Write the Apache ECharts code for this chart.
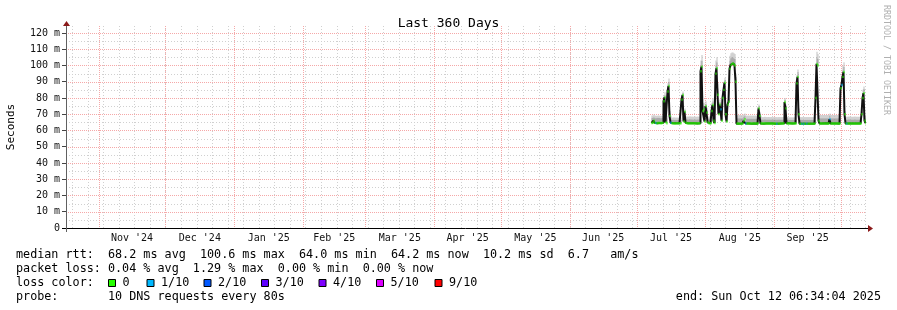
<!DOCTYPE html>
<html><head><meta charset="utf-8">
<script src="https://cdn.jsdelivr.net/npm/echarts@6/dist/echarts.min.js"></script>
<style>html,body{margin:0;padding:0;background:#fff}#c{width:897px;height:310px}</style>
</head><body><div id="c"></div>
<script>
// ---------- data ----------
const axisStart = Date.UTC(2024, 9, 17, 6, 34, 4);
const axisEnd = Date.UTC(2025, 9, 12, 6, 34, 4);
const monthStarts = ['2024-11-01','2024-12-01','2025-01-01','2025-02-01','2025-03-01','2025-04-01',
  '2025-05-01','2025-06-01','2025-07-01','2025-08-01','2025-09-01','2025-10-01'];
const monthLabels = ["Nov '24","Dec '24","Jan '25","Feb '25","Mar '25","Apr '25",
  "May '25","Jun '25","Jul '25","Aug '25","Sep '25"];
const firstSunday = '2024-10-20';
const yTicks = [0,10,20,30,40,50,60,70,80,90,100,110,120];
const yMinor = [5,15,25,35,45,55,65,75,85,95,105,115];
const yMax = 124.3;

const dataStart = Date.UTC(2025, 6, 7, 18, 0, 0);
const stepHours = 10.8;
// median rtt (ms)
const median = [
64.6,64.8,66,64.7,64.6,64.5,64.6,64.7,64.6,64.5,
64.6,64.7,78,80.4,65,64.5,84,87.4,69,64.8,
64.4,64.5,64.4,64.3,64.4,64.5,64.4,64.4,64.5,64.4,
79,81.8,65.5,71.6,64.8,64.5,64.4,64.5,64.4,64.5,
64.4,64.5,64.4,64.5,64.4,64.3,64.4,64.5,64.4,96.5,
99.3,72,73,65.5,75,71,65,64.5,64.4,64.5,
72,75.7,66,64.6,95,98.3,82,70,76,73,
66,80,85,89.4,70,65.5,76,77.7,98,100.3,
101,101.3,100.8,100,90,64.2,64.3,64.2,64.1,64.2,
64.3,64.2,66,67,64.3,64.2,64.3,64.2,64.3,64.2,
64.3,64.2,64.3,64.2,64.3,64.2,64.3,73.6,69,64.3,
64.3,64.2,64.3,64.4,64.3,64.2,64.3,64.3,64.2,64.3,
64.3,64.2,64.3,64.2,64.3,64.1,64.2,64.3,64.2,64.3,
64.2,64.3,64.4,77.5,73.6,64.4,64.3,64.4,64.3,64.4,
64.3,64.4,64.3,64.4,64.3,89,93,70,64.2,64.1,
64.1,64.2,64.1,64.2,64.1,64.2,64.1,64.2,64.2,64.1,
64.2,64.1,64.2,64.2,80,101,100,66,64.3,64.3,
64.3,64.2,64.3,64.4,64.3,64.2,64.3,64.3,67,64.3,
64.2,64.3,64.3,64.2,64.3,64.4,64.3,64.2,64.3,86,
88,93,96,70,64.3,64.2,64.3,64.3,64.2,64.3,
64.3,64.2,64.3,64.3,64.2,64.3,64.2,64.3,64.3,64.2,
70,80,83,66,64.5];
// upper edge of the dark smoke band (ms)
const smokeMid = [
67.8,67.9,68.2,67.8,67.6,67.7,67.8,67.9,67.7,67.6,
67.7,67.8,80,82,68,67.5,87,90,71,67.4,
66.6,66.5,66.7,66.5,66.6,66.4,66.6,66.5,66.7,66.6,
81,83,68,72.5,67,66.8,66.9,66.8,67,66.8,
66.9,66.8,66.7,66.9,66.8,66.7,66.9,66.8,66.9,100,
103,74,75,68,76.5,72.5,67,66.8,66.9,66.8,
75,78,68,67,100,102,86,72,77.5,75,
68,83,88,91,72,67.5,77,79,103,104.5,
105,105,104.5,104,93,67.6,67.5,67.6,67.5,67.6,
67.5,67.6,68.5,69,67.4,67.3,67.4,67.3,67.4,67.3,
67.4,67.3,67.4,67.3,67.4,67.3,67.4,75,70.5,67.2,
66.8,66.7,66.8,66.9,66.8,66.7,66.8,66.8,66.7,66.8,
66.8,66.7,66.8,66.7,66.8,66.6,66.7,66.8,66.7,66.8,
66.7,66.8,66.9,79,75,66.6,66.5,66.6,66.5,66.6,
66.5,66.6,66.5,66.6,66.5,92,96,72,66.6,66.5,
66.6,66.5,66.6,66.5,66.6,66.5,66.6,66.5,66.6,66.5,
66.6,66.5,66.6,66.6,83,105,104,68,67.5,67.6,
67.5,67.6,67.5,67.6,67.5,67.6,67.5,67.6,69,67.5,
67.6,67.5,67.6,67.5,67.6,67.5,67.6,67.5,67.6,88,
91,97,99,71,66.8,66.7,66.8,66.9,66.8,66.7,
66.8,66.7,66.8,66.9,66.8,66.7,66.8,66.7,66.8,66.9,
71.5,83,85.5,68,66.8];
// upper edge of the light smoke band (ms)
const smokeHigh = [
69.2,69.3,69.8,69.2,69.0,69.1,69.2,69.3,69.1,69.0,
69.1,69.2,81.5,83.5,69.5,69,89,92,72,69,
68.0,67.9,68.1,67.9,68.0,67.8,68.0,67.9,68.1,68.0,
82,84,69.5,73.5,68.6,68.5,68.6,68.5,68.7,68.5,
68.6,68.5,68.4,68.6,68.5,68.4,68.6,68.5,68.6,103,
106.5,76,77,69.5,78,74,68.6,68.5,68.6,68.5,
77,80,69.5,68.6,103,105,89,73.5,79,76.5,
69.5,85,90,92.5,73.5,69,78,80,106,107.5,
108,108,107.5,107,95,69.5,69.4,69.5,69.4,69.5,
69.4,69.5,70,70.5,69.2,69.1,69.2,69.1,69.2,69.1,
69.2,69.1,69.2,69.1,69.2,69.1,69.2,76,71.5,69,
68.3,68.2,68.3,68.4,68.3,68.2,68.3,68.3,68.2,68.3,
68.3,68.2,68.3,68.2,68.3,68.1,68.2,68.3,68.2,68.3,
68.2,68.3,68.4,80,76,68.1,68.0,68.1,68.0,68.1,
68.0,68.1,68.0,68.1,68.0,94,97.5,73.5,68.3,68.2,
68.3,68.2,68.3,68.2,68.3,68.2,68.3,68.2,68.3,68.2,
68.3,68.2,68.3,68.3,85,108.5,107,69.5,69.5,69.6,
69.5,69.6,69.5,69.6,69.5,69.6,69.5,69.6,70.5,69.5,
69.6,69.5,69.6,69.5,69.6,69.5,69.6,69.5,69.6,89.5,
93,100,102,72,68.5,68.4,68.5,68.6,68.5,68.4,
68.5,68.4,68.5,68.6,68.5,68.4,68.5,68.4,68.5,68.6,
72.5,85,87,69.5,68.5];
// steps with packet loss (index into the arrays above) and lost pings out of 10
const lossIndex = [4,19,69,94,125,150,152,155,178,190,195];
const lossCount = [1,1,1,1,1,1,1,1,1,1,1];
const lossColors = {0:'#26ff00',1:'#00b8ff',2:'#0059ff',3:'#5e00ff',4:'#7e00ff',5:'#dd00ff',9:'#ff0000'};
const legendLoss = [['0',0],['1/10',1],['2/10',2],['3/10',3],['4/10',4],['5/10',5],['9/10',9]];
const statLines = [
  'median rtt:  68.2 ms avg  100.6 ms max  64.0 ms min  64.2 ms now  10.2 ms sd  6.7   am/s',
  'packet loss: 0.04 % avg  1.29 % max  0.00 % min  0.00 % now',
  'loss color:',
  'probe:       10 DNS requests every 80s'
];
const endText = 'end: Sun Oct 12 06:34:04 2025';

// ---------- build ----------
const MONO = '"DejaVu Sans Mono", monospace';
const stepMs = stepHours * 3600 * 1000;
const DAY = 86400000;
const monthMs = monthStarts.map(s => Date.parse(s));
const labelPos = monthLabels.map((l, i) => (monthMs[i] + monthMs[i + 1]) / 2);
const weekMs = [];
for (let t = Date.parse(firstSunday); t <= axisEnd; t += 7 * DAY) weekMs.push(t);
const lossAt = {};
lossIndex.forEach((k, j) => { lossAt[k] = lossCount[j]; });
const times = median.map((m, i) => dataStart + i * stepMs);

function vLines(values, color, dash) {
  return {
    type: 'custom', silent: true, clip: true, z: 1,
    data: values.map(v => [v, 0]),
    renderItem(params, api) {
      const cs = params.coordSys;
      const x = Math.round(api.coord([api.value(0), 0])[0]) + 0.5;
      return { type: 'line', shape: { x1: x, y1: cs.y, x2: x, y2: cs.y + cs.height },
        style: { stroke: color, lineWidth: 1, lineDash: dash } };
    }
  };
}
function hLines(values, color, dash) {
  return {
    type: 'custom', silent: true, clip: true, z: 1,
    data: values.map(v => [axisStart, v]),
    renderItem(params, api) {
      const cs = params.coordSys;
      const y = Math.round(api.coord([api.value(0), api.value(1)])[1]) + 0.5;
      return { type: 'line', shape: { x1: cs.x, y1: y, x2: cs.x + cs.width, y2: y },
        style: { stroke: color, lineWidth: 1, lineDash: dash } };
    }
  };
}

const smokeSeries = {
  type: 'custom', silent: true, clip: true, z: 2,
  data: median.map((m, i) => [times[i], m, smokeMid[i], smokeHigh[i]]),
  renderItem(params, api) {
    const t = api.value(0);
    const a = api.coord([t, api.value(1)]);
    const b = api.coord([t + stepMs, api.value(2)]);
    const c = api.coord([t, api.value(3)]);
    const w = b[0] - a[0];
    return { type: 'group', children: [
      { type: 'rect', shape: { x: a[0], y: b[1], width: w, height: Math.max(0, a[1] - b[1]) }, style: { fill: '#8e8e8e' } },
      { type: 'rect', shape: { x: a[0], y: c[1], width: w, height: Math.max(0, b[1] - c[1]) }, style: { fill: '#c2c2c2' } }
    ]};
  }
};
const medianLine = {
  type: 'line', step: 'end', symbol: 'none', silent: true, z: 3,
  data: median.map((m, i) => [times[i], m]),
  lineStyle: { color: '#111', width: 2 }
};
const medianColor = {
  type: 'custom', silent: true, clip: true, z: 4,
  data: median.map((m, i) => [times[i], m, lossAt[i] || 0]),
  renderItem(params, api) {
    const t = api.value(0);
    const a = api.coord([t, api.value(1)]);
    const b = api.coord([t + stepMs, api.value(1)]);
    return { type: 'rect', shape: { x: a[0], y: a[1] - 1.2, width: b[0] - a[0], height: 2.4 },
      style: { fill: lossColors[api.value(2)] } };
  }
};

// ---------- decorations (text, legend) ----------
const G = { left: 66, top: 26, width: 800, height: 202 };
const LF = '11.75px ' + MONO;
const graphics = [];
statLines.forEach((s, k) => graphics.push({ type: 'text', silent: true,
  style: { text: s, x: 16, y: 254.8 + 14 * k, font: LF, fill: '#000', verticalAlign: 'middle' } }));
const boxX = [108, 146.5, 203.5, 261, 318.5, 376, 434.5];
legendLoss.forEach(([lab, n], j) => {
  graphics.push({ type: 'rect', silent: true, shape: { x: boxX[j] + 0.5, y: 279.5, width: 7, height: 7 },
    style: { fill: lossColors[n], stroke: '#000', lineWidth: 1 } });
  graphics.push({ type: 'text', silent: true,
    style: { text: lab, x: boxX[j] + 14.5, y: 282.8, font: LF, fill: '#000', verticalAlign: 'middle' } });
});
graphics.push({ type: 'text', silent: true,
  style: { text: endText, x: 881, y: 296.8, font: LF, fill: '#000', align: 'right', verticalAlign: 'middle' } });
graphics.push({ type: 'text', silent: true, x: 11, y: 127, rotation: Math.PI / 2,
  style: { text: 'Seconds', x: 0, y: 0, font: '11px ' + MONO, fill: '#000', align: 'center', verticalAlign: 'middle' } });
graphics.push({ type: 'text', silent: true, x: 886.5, y: 60, rotation: -Math.PI / 2,
  style: { text: 'RRDTOOL / TOBI OETIKER', x: 0, y: 0, font: '8.3px ' + MONO, fill: '#b0b0b0', align: 'center', verticalAlign: 'middle' } });
// axis extensions and arrows
graphics.push({ type: 'line', silent: true, shape: { x1: G.left - 4, y1: G.top + G.height + 0.5, x2: G.left + G.width + 3, y2: G.top + G.height + 0.5 }, style: { stroke: '#000', lineWidth: 1 }, z: 10 });
graphics.push({ type: 'line', silent: true, shape: { x1: G.left + 0.5, y1: G.top + G.height + 4, x2: G.left + 0.5, y2: G.top - 3 }, style: { stroke: '#606060', lineWidth: 1 }, z: 10 });
graphics.push({ type: 'polygon', silent: true, shape: { points: [[G.left - 3, G.top], [G.left + 4, G.top], [G.left + 0.5, G.top - 5]] }, style: { fill: '#8b1a1a' }, z: 11 });
graphics.push({ type: 'polygon', silent: true, shape: { points: [[G.left + G.width + 2, G.top + G.height - 3], [G.left + G.width + 2, G.top + G.height + 4], [G.left + G.width + 7, G.top + G.height + 0.5]] }, style: { fill: '#8b1a1a' }, z: 11 });

const chart = echarts.init(document.getElementById('c'), null, { renderer: 'canvas' });
chart.setOption({
  animation: false,
  backgroundColor: '#fff',
  title: { text: 'Last 360 Days', left: 'center', top: 12,
    textStyle: { fontFamily: MONO, fontSize: 13, fontWeight: 'normal', color: '#000' } },
  grid: { left: G.left, top: G.top, width: G.width, height: G.height },
  xAxis: {
    type: 'value', min: axisStart, max: axisEnd,
    splitLine: { show: false }, axisTick: { show: false },
    axisLine: { show: false },
    axisLabel: {
      customValues: labelPos, margin: 5, color: '#111', fontFamily: MONO, fontSize: 10,
      formatter: v => {
        let best = 0, d = Infinity;
        labelPos.forEach((p, i) => { if (Math.abs(p - v) < d) { d = Math.abs(p - v); best = i; } });
        return monthLabels[best];
      }
    }
  },
  yAxis: {
    type: 'value', min: 0, max: yMax,
    splitLine: { show: false },
    axisLine: { show: false },
    axisTick: { show: true, customValues: yTicks, length: 4, lineStyle: { color: '#444' } },
    axisLabel: { customValues: yTicks, margin: 6, color: '#111', fontFamily: MONO, fontSize: 10,
      formatter: v => v === 0 ? '0' : v + ' m' }
  },
  graphic: graphics,
  series: [
    vLines(weekMs, '#d0d0d0', [1, 2]),
    hLines(yMinor, '#d0d0d0', [1, 2]),
    vLines(monthMs, '#f5a8a8', [1, 1]),
    hLines(yTicks.filter(v => v > 0), '#f5a8a8', [1, 1]),
    smokeSeries,
    medianLine,
    medianColor
  ]
});
</script>
</body></html>
